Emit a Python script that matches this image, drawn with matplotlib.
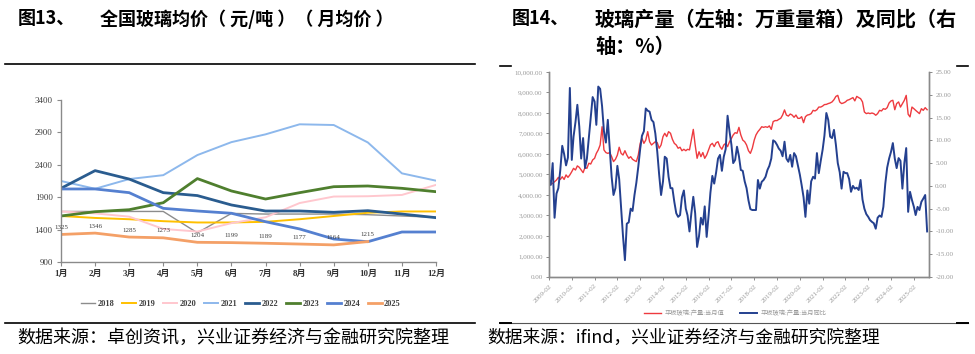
import numpy as np
import pandas as pd
import matplotlib
matplotlib.use('Agg')
import matplotlib.pyplot as plt
from matplotlib.lines import Line2D

plt.rcParams['font.family'] = ['Liberation Serif', 'Noto Sans CJK SC', 'DejaVu Sans']

# ---- left chart: national glass average price (yuan/ton), monthly
months = ['1月', '2月', '3月', '4月', '5月', '6月', '7月', '8月', '9月', '10月', '11月', '12月']
years = ['2018', '2019', '2020', '2021', '2022', '2023', '2024', '2025']
p2018 = [1680, 1680, 1680, 1680, 1350, 1650, 1640, 1640, 1640, 1630, 1610, 1590]
p2019 = [1610, 1580, 1560, 1530, 1510, 1510, 1520, 1560, 1610, 1660, 1680, 1680]
p2020 = [1680, 1650, 1600, 1410, 1370, 1500, 1590, 1810, 1910, 1915, 1935, 2090]
p2021 = [2150, 2030, 2180, 2240, 2550, 2750, 2870, 3025, 3014, 2745, 2268, 2155]
p2022 = [2037, 2310, 2180, 1970, 1925, 1780, 1687, 1687, 1667, 1692, 1640, 1584]
p2023 = [1610, 1676, 1707, 1815, 2187, 1996, 1872, 1970, 2062, 2073, 2037, 1985]
p2024 = [2027, 2027, 1970, 1728, 1687, 1652, 1522, 1410, 1255, 1213, 1363, 1363]
p2025 = [1325, 1346, 1285, 1273, 1204, 1199, 1189, 1177, 1164, 1215]
prices = [p2018, p2019, p2020, p2021, p2022, p2023, p2024, p2025]
colors = ['#8c8c8c', '#FFC000', '#FFC7CE', '#8DB8EC', '#2A5C8F', '#4F7F2E', '#5580D0', '#F4A067']
widths = [1.0, 1.4, 1.4, 1.4, 2.0, 2.0, 2.0, 2.0]

# ---- right chart: flat glass output (left axis) and yoy % (right axis), from 2009-02
output = [4490, 4520, 4570, 4650, 4730, 4860, 4760, 4890, 4760, 4980, 4860,
          4980, 5140, 5300, 5220, 5420, 5350, 5220, 5090, 5350, 5300, 5550, 5510,
          5710, 5790, 6030, 6200, 6440, 7330, 6200, 6070, 6030, 6070, 5870, 5630,
          5740, 5950, 6330, 6030, 5950, 6160, 5950, 5790, 5870, 5740, 5680, 5630,
          5950, 6520, 6760, 6520, 6680, 7090, 6600, 6440, 6520, 6600, 6550, 6280,
          6440, 6850, 7010, 6850, 7090, 7010, 6720, 6520, 6440, 6280, 6330, 6160,
          6230, 6160, 6230, 6200, 6680, 7200, 6440, 5790, 6110, 5870, 6070, 5790,
          5950, 6200, 6440, 6520, 6360, 6550, 6600, 6360, 6230, 6440, 6520, 6360,
          6600, 6760, 6930, 7040, 7010, 7300, 6930, 6680, 6600, 6440, 6160, 6030,
          6280, 6680, 6930, 7090, 7200, 7330, 7300, 7330, 7300, 7370, 7200, 7580,
          7630, 7630, 7690, 7740, 7900, 8150, 7900, 7850, 7950, 7900, 7790, 7900,
          7740, 7740, 7820, 7530, 7820, 7900, 7920, 7970, 8130, 8100, 8160, 8290,
          8290, 8340, 8410, 8420, 8460, 8490, 8540, 8650, 8810, 8860, 8540, 8460,
          8490, 8540, 8620, 8650, 8700, 8750, 8590, 8810, 8750, 8700, 8540, 8050,
          7970, 8000, 7970, 8000, 7970, 7890, 7970, 8130, 8100, 8210, 8180, 8260,
          8490, 8590, 8620, 8160, 8460, 8540, 8290, 8460, 8620, 8860, 7940, 7810,
          8290, 8210, 8130, 8050, 7970, 8210, 8130, 8260, 8160]
yoy = [1.3, 0.2, 5.0, -7.0, -1.7, -0.5, 3.5, 8.8, 7.0, 4.5, 6.2,
       21.5, 5.7, 10.8, 14.0, 17.8, 13.0, 6.0, 10.5, 3.9, 6.0, 10.5, 15.0,
       19.5, 18.5, 13.4, 21.8, 21.3, 17.5, 12.0, 9.5, 14.5, 8.5, 2.0, -2.0,
       -0.5, 4.4, 1.5, -5.0, -11.0, -16.3, -8.3, -8.0, -5.0, -5.5, -2.0, 0.7,
       4.2, 8.2, 11.0, 12.0, 17.0, 16.5, 16.3, 14.5, 14.0, 11.5, 7.5, 2.5,
       -2.0, 1.0, 6.4, 6.0, 2.0, -0.5, -0.5, -3.5, -6.0, -6.8, -6.4, -2.5,
       -1.0, -5.0, -6.5, -10.0, -6.0, -2.4, -6.0, -13.4, -11.0, -7.0, -8.5, -4.5,
       -11.2, -6.5, -1.5, 2.2, 0.5, 3.0, 6.0, 6.8, 3.3, 6.4, 8.1, 15.4,
       12.0, 9.0, 5.0, 5.7, 8.6, 6.5, 3.5, 3.3, 1.0, -0.5, -3.2, -5.1,
       -5.3, -5.3, -5.3, 1.3, -0.6, 0.9, 1.3, 2.0, 3.5, 4.4, 6.0, 10.0,
       9.7, 9.0, 8.2, 7.7, 6.5, 9.7, 6.0, 5.3, 6.8, 4.2, 7.2, 6.5,
       4.5, 2.5, 0.2, -2.5, -6.8, -1.0, -3.9, 1.0, 2.0, 1.6, 7.2, 2.8,
       5.5, 8.0, 11.0, 16.0, 14.5, 10.8, 10.5, 12.3, 9.0, 5.0, 3.0, -0.6,
       3.1, 2.8, 2.8, 1.5, -1.3, 0.0, -0.6, -0.4, -0.9, 1.3, -3.0, -5.0,
       -6.2, -6.8, -7.5, -7.9, -8.2, -9.4, -7.0, -6.5, -6.8, -4.6, 0.5, 4.0,
       6.0, 7.5, 9.4, 6.0, 3.9, 6.1, 5.5, -0.6, 5.0, 8.3, -5.7, -1.3,
       -3.1, -4.6, -6.4, -4.6, -5.3, -3.5, -2.8, -2.0, -10.0]
dates = pd.date_range('2009-02-01', periods=len(output), freq='MS')


def fx(px):
    return px / 975


def fy(py):
    return 1 - py / 354


fig = plt.figure(figsize=(9.75, 3.54), dpi=100)
cjk = 'Noto Sans CJK SC'
axis_gray = '#8a8a8a'

# titles, rules, sources
fig.text(fx(18), fy(19), '图13、', fontsize=13, weight='bold', family=cjk, va='center')
fig.text(fx(100), fy(19), '全国玻璃均价（ 元/吨 ）（ 月均价 ）', fontsize=13, weight='bold', family=cjk, va='center')
fig.text(fx(512), fy(19), '图14、', fontsize=13, weight='bold', family=cjk, va='center')
fig.text(fx(595), fy(19), '玻璃产量（左轴：万重量箱）及同比（右', fontsize=14.5, weight='bold', family=cjk, va='center')
fig.text(fx(595), fy(46), '轴：%）', fontsize=14.5, weight='bold', family=cjk, va='center')
fig.add_artist(Line2D([fx(5), fx(475)], [fy(64), fy(64)], color='black', lw=1.2))
fig.add_artist(Line2D([fx(5), fx(475)], [fy(323), fy(323)], color='black', lw=1.2))
fig.add_artist(Line2D([fx(500), fx(968)], [fy(323), fy(323)], color='#555555', lw=0.8))
fig.add_artist(Line2D([fx(500), fx(511)], [fy(66), fy(66)], color='black', lw=1.2))
fig.add_artist(Line2D([fx(957), fx(968)], [fy(66), fy(66)], color='black', lw=1.2))
fig.add_artist(Line2D([fx(500), fx(511)], [fy(323), fy(323)], color='black', lw=1.4))
fig.add_artist(Line2D([fx(957), fx(968)], [fy(323), fy(323)], color='black', lw=1.4))
fig.text(fx(17), fy(338), '数据来源：卓创资讯，兴业证券经济与金融研究院整理', fontsize=13, family=cjk, va='center')
fig.text(fx(487), fy(338), '数据来源：ifind，兴业证券经济与金融研究院整理', fontsize=12.8, family=cjk, va='center')

# ---- left chart
ax = fig.add_axes([fx(61), fy(262), fx(375), 162 / 354])
x = np.arange(len(months))
for yr, vals, c, w in zip(years, prices, colors, widths):
    ax.plot(x[:len(vals)], vals, color=c, lw=w, label=yr)
for xi, v in zip(x, p2025):
    ax.text(xi, v + 70, str(v), fontsize=5, color='#404040', ha='center', va='bottom')
ax.set_xlim(0, 11)
ax.set_ylim(900, 3400)
ax.set_yticks(range(900, 3401, 500))
ax.set_xticks(x)
ax.set_xticklabels(months, fontsize=6.5, weight='bold', color='#333333')
for lab in ax.get_yticklabels():
    lab.set_fontsize(6.5)
    lab.set_color('#404040')
for s in ['top', 'right']:
    ax.spines[s].set_visible(False)
for s in ['left', 'bottom']:
    ax.spines[s].set_color(axis_gray)
    ax.spines[s].set_linewidth(1.0)
ax.tick_params(length=3, width=0.8, color=axis_gray, pad=3)
ax.spines['bottom'].set_zorder(0)
fig.legend(*ax.get_legend_handles_labels(), loc='center', bbox_to_anchor=(fx(241), fy(304)),
           ncol=8, frameon=False, handlelength=1.7, handletextpad=0.3,
           columnspacing=0.9, labelcolor='#404040', prop={'weight': 'bold', 'size': 6})

# ---- right chart
axr = fig.add_axes([fx(549), fy(277), fx(380), 205 / 354])
axr2 = axr.twinx()
axr.plot(dates, output, color='#EE3A3F', lw=1.0, label='平板玻璃:产量:当月值')
axr2.plot(dates, yoy, color='#24408F', lw=1.4, label='平板玻璃:产量:当月同比')
axr.set_ylim(0, 10000)
axr.set_yticks(range(0, 10001, 1000))
axr.set_yticklabels([f'{v:,.2f}' for v in range(0, 10001, 1000)])
axr2.set_ylim(-20, 25)
axr2.set_yticks(range(-20, 26, 5))
axr2.set_yticklabels([f'{v:.2f}' for v in range(-20, 26, 5)])
axr.set_xlim(dates[0], dates[-1] + pd.DateOffset(months=1))
tick_dates = [d for d in dates if d.month == 2]
axr.set_xticks(tick_dates)
axr.set_xticklabels([d.strftime('%Y-%m') for d in tick_dates], rotation=45, ha='right',
                    rotation_mode='anchor', fontsize=5, color='#999999')
for a in (axr, axr2):
    a.spines['top'].set_visible(False)
    for s in ['left', 'right', 'bottom']:
        a.spines[s].set_color(axis_gray)
        a.spines[s].set_linewidth(1.0)
    a.tick_params(length=2.5, width=0.7, color=axis_gray, labelsize=5, labelcolor='#999999', pad=2)
h1, l1 = axr.get_legend_handles_labels()
h2, l2 = axr2.get_legend_handles_labels()
fig.legend(h1 + h2, l1 + l2, loc='center', bbox_to_anchor=(fx(735), fy(313)), ncol=2,
           frameon=False, fontsize=4.5, handlelength=2.8, handletextpad=0.5, columnspacing=2.5,
           labelcolor='#999999')

fig.savefig('out.png', dpi=100)
